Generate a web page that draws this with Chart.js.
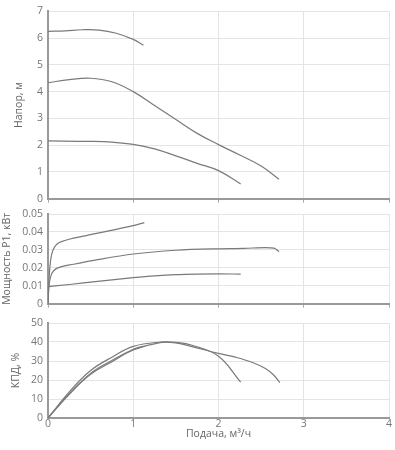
<!DOCTYPE html>
<html>
<head>
<meta charset="utf-8">
<script src="https://cdn.jsdelivr.net/npm/chart.js@4"></script>
<style>
body { margin: 0; width: 395px; height: 450px; position: relative; background: #fff; overflow: hidden; }
canvas { position: absolute; left: 0; }
</style>
</head>
<body>
<canvas id="headChart" width="395" height="210" style="top:0"></canvas>
<canvas id="powerChart" width="395" height="115" style="top:200px"></canvas>
<canvas id="effChart" width="395" height="140" style="top:310px"></canvas>
<script>
// flow, m3/h
const xTicks = [0, 1, 2, 3, 4];

// head, m
const qHead1 = [0, 0.2, 0.4, 0.6, 0.8, 1.0, 1.12];
const head1 = [6.25, 6.27, 6.31, 6.3, 6.18, 5.95, 5.73];
const qHead2 = [0, 0.25, 0.5, 0.75, 1.0, 1.25, 1.5, 1.75, 2.0, 2.25, 2.5, 2.71];
const head2 = [4.33, 4.45, 4.5, 4.37, 4.0, 3.48, 2.96, 2.44, 2.02, 1.63, 1.22, 0.73];
const qHead3 = [0, 0.5, 0.75, 1.0, 1.25, 1.5, 1.75, 2.0, 2.26];
const head3 = [2.16, 2.14, 2.11, 2.03, 1.86, 1.6, 1.32, 1.05, 0.55];

// power P1, kW
const qPow1 = [0, 0.01, 0.03, 0.06, 0.1, 0.2, 0.4, 0.7, 1.0, 1.13];
const pow1 = [0, 0.012, 0.024, 0.03, 0.033, 0.0352, 0.0375, 0.0405, 0.0435, 0.0452];
const qPow2 = [0, 0.01, 0.03, 0.07, 0.15, 0.3, 0.6, 1.0, 1.5, 2.0, 2.3, 2.55, 2.65, 2.71];
const pow2 = [0, 0.009, 0.015, 0.0185, 0.0205, 0.022, 0.0247, 0.0277, 0.0298, 0.0306, 0.0308, 0.0313, 0.031, 0.029];
const qPow3 = [0, 0.25, 0.5, 0.75, 1.0, 1.25, 1.5, 1.75, 2.0, 2.26];
const pow3 = [0.0095, 0.0107, 0.012, 0.0133, 0.0145, 0.0155, 0.0162, 0.0165, 0.0166, 0.0165];

// efficiency, %
const qEff1 = [0, 0.25, 0.5, 0.75, 1.0, 1.12];
const eff1 = [0, 12.8, 23.5, 30.3, 36.2, 37.8];
const qEff2 = [0, 0.25, 0.5, 0.75, 1.0, 1.33, 1.5, 1.69, 2.0, 2.26];
const eff2 = [0, 13.8, 25, 32, 37.7, 40, 39.8, 38.3, 32.5, 18.9];
const qEff3 = [0, 0.25, 0.5, 0.75, 1.0, 1.33, 1.5, 1.69, 2.0, 2.2, 2.4, 2.55, 2.65, 2.72];
const eff3 = [0, 12.5, 23, 29.6, 35.8, 39.8, 39.5, 37.6, 34, 32, 29.2, 26, 22.5, 18.6];

const lineColor = '#7a7a7a';
const gridColor = '#e3e3e8';
const axisColor = '#999';
const textColor = '#777';
const fontFam = "'Open Sans', sans-serif";

function pts(xs, ys) {
    return xs.map(function(x, i) { return {x: x, y: ys[i]}; });
}

function makeSet(xs, ys, mono) {
    let ds = {
        data: pts(xs, ys),
        borderColor: lineColor,
        borderWidth: 1.2,
        pointRadius: 0,
        fill: false
    };
    if (mono) ds.cubicInterpolationMode = 'monotone';
    else ds.tension = 0.4;
    return ds;
}

function makePanel(id, sets, yMax, yStep, yTitle, titlePad, pad, xLabels, xHeight) {
    let ctx = document.getElementById(id).getContext('2d');
    return new Chart(ctx, {
        type: 'line',
        data: { datasets: sets },
        options: {
            responsive: false,
            animation: false,
            layout: { padding: pad },
            plugins: { legend: { display: false }, tooltip: { enabled: false } },
            scales: {
                x: {
                    type: 'linear',
                    min: xTicks[0],
                    max: xTicks[xTicks.length - 1],
                    afterBuildTicks: function(s) { s.ticks = xTicks.map(function(v) { return {value: v}; }); },
                    afterFit: function(s) { s.height = xHeight; },
                    grid: { color: gridColor, tickColor: '#aaa', tickLength: xLabels ? 0 : 4, drawTicks: !xLabels },
                    border: { color: axisColor, width: 2 },
                    ticks: { display: xLabels, padding: 0, color: textColor, font: { family: fontFam, size: 10.5 } },
                    title: {
                        display: xLabels,
                        text: 'Подача, м³/ч',
                        color: '#666',
                        padding: { top: 0, bottom: 10 },
                        font: { family: fontFam, size: 10.5 }
                    }
                },
                y: {
                    min: 0,
                    max: yMax,
                    ticks: { stepSize: yStep, padding: 5, color: textColor, font: { family: fontFam, size: 10.5 } },
                    afterFit: function(s) { s.width = 48; },
                    grid: { color: gridColor, drawTicks: false },
                    border: { color: axisColor, width: 2 },
                    title: {
                        display: true,
                        text: yTitle,
                        color: '#666',
                        padding: { top: titlePad, bottom: 0 },
                        font: { family: fontFam, size: 10.5 }
                    }
                }
            }
        }
    });
}

makePanel('headChart',
    [makeSet(qHead1, head1), makeSet(qHead2, head2), makeSet(qHead3, head3)],
    7, 1, 'Напор, м', 13, { left: 0, right: 6, top: 9, bottom: 2 }, false, 6);

makePanel('powerChart',
    [makeSet(qPow1, pow1, true), makeSet(qPow2, pow2, true), makeSet(qPow3, pow3, true)],
    0.05, 0.01, 'Мощность P1, кВт', 1, { left: 0, right: 6, top: 14, bottom: 2 }, false, 4);

makePanel('effChart',
    [makeSet(qEff1, eff1), makeSet(qEff2, eff2), makeSet(qEff3, eff3)],
    50, 10, 'КПД, %', 10, { left: 0, right: 6, top: 13, bottom: 0 }, true, 32);
</script>
</body>
</html>
